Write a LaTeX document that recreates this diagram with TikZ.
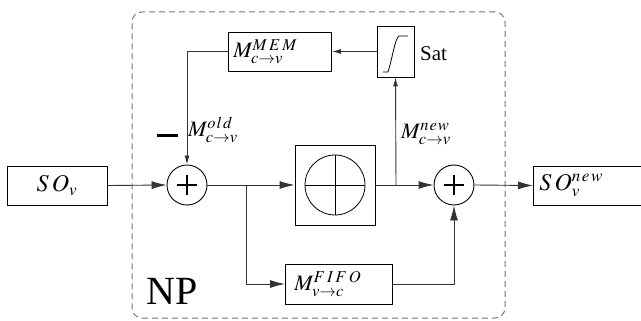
\documentclass[tikz,border=0pt]{standalone}
\usepackage{mathptmx}
\usepackage[no-math]{fontspec}
\setmainfont{Liberation Serif}
\usetikzlibrary{arrows.meta,calc}
\DeclareMathSizes{22}{22}{16.5}{12.5}
\DeclareMathSizes{24}{24}{17}{13}
\newcommand{\szM}{\fontsize{22}{24}\selectfont}
\newcommand{\szT}{\fontsize{21}{23}\selectfont}
\newcommand{\szS}{\fontsize{24}{26}\selectfont}
\begin{document}
\begin{tikzpicture}[x=1pt,y=-1pt,
  blk/.style={draw=black,line width=0.9pt,rectangle,inner sep=0pt,font=\szM},
  conn/.style={draw=black!80,line width=0.9pt},
  arr/.style={conn,-{Latex[length=15pt,width=8pt]}},
  sarr/.style={conn,-{Latex[length=9pt,width=5pt]}},
  sumnode/.style={circle,draw=black,line width=0.9pt,minimum size=40pt,inner sep=0pt,
    path picture={
      \draw[line width=2.2pt] ($(path picture bounding box.center)+(-10,0)$) -- ($(path picture bounding box.center)+(10,0)$);
      \draw[line width=2.2pt] ($(path picture bounding box.center)+(0,-10)$) -- ($(path picture bounding box.center)+(0,10)$);}},
  npbox/.style={draw=black!55,line width=1pt,dash pattern=on 6pt off 4pt,rounded corners=10pt,inner sep=0pt},
  lbl/.style={inner sep=0pt,font=\szM}
]
\useasboundingbox (0,0) rectangle (641,321);

\node[npbox,minimum width=373pt,minimum height=306pt] (np) at (318.5,165) {};
\node[lbl,font=\fontsize{40}{42}\selectfont] (nplbl) at (172,291) {NP};

\node[blk,minimum width=100pt,minimum height=39pt,font=\szS] (sov) at (57,185.5) {$S\kern3pt O_v$};
\node[sumnode] (sum1) at (187,185) {};
\node[blk,minimum width=80pt,minimum height=80pt,
  path picture={
    \draw[line width=0.8pt] (path picture bounding box.center) circle[radius=30pt];
    \draw[line width=0.8pt] ($(path picture bounding box.center)+(-30,0)$) -- ($(path picture bounding box.center)+(30,0)$);
    \draw[line width=0.8pt] ($(path picture bounding box.center)+(0,-30)$) -- ($(path picture bounding box.center)+(0,30)$);}] (phi) at (335,185) {};
\node[sumnode] (sum2) at (454,185) {};
\node[blk,minimum height=39pt,anchor=west,text width=96pt,align=left,inner xsep=6pt,font=\szS] (sonew) at (533,185.5) {$S\kern3pt O_v^{n\kern1.5pt e\kern1.5pt w}$};
\node[blk,minimum height=39pt,anchor=west,text width=93pt,align=left,inner xsep=5pt] (mmem) at (228,51.5) {$M^{M\kern2pt E\kern2pt M}_{c\rightarrow v}$};
\node[blk,minimum width=37pt,minimum height=51pt] (sat) at (395.5,51.5) {};
\draw[line width=0.8pt] (383,72) -- (388,72) .. controls (392,60) and (395,38) .. (399,36) -- (408,36);
\node[blk,minimum height=40pt,anchor=west,text width=89pt,align=left,inner xsep=9pt] (fifo) at (285,284) {$M^{F\kern2pt I\kern2pt F\kern2pt O}_{v\rightarrow c}$};

\coordinate (b1) at (246,185);
\coordinate (b2) at (396,185);

\node[lbl] (minus) at (167.5,135) {\rule{21pt}{3pt}};
\node[lbl,anchor=west] (mold) at (188,130) {$M^{o\kern1pt l\kern1pt d}_{c\rightarrow v}$};
\node[lbl,anchor=west] (mnew) at (401,134) {$M^{n\kern1pt e\kern1pt w}_{c\rightarrow v}$};
\node[lbl,anchor=west,font=\szT] (satlbl) at (420,54) {Sat};

\draw[arr] (sov.east) -- (sum1.west);
\draw[arr] (sum1.east) -- (phi.west);
\draw[arr] (b1) |- (fifo.west);
\draw[arr] (phi.east) -- (sum2.west);
\draw[sarr] (b2) -- (sat.south);
\draw[sarr] (sat.west) -- (mmem.east);
\draw[sarr] (mmem.west) -| (sum1.north);
\draw[arr] (fifo.east) -| (sum2.south);
\draw[arr] (sum2.east) -- (sonew.west);
\end{tikzpicture}
\end{document}
